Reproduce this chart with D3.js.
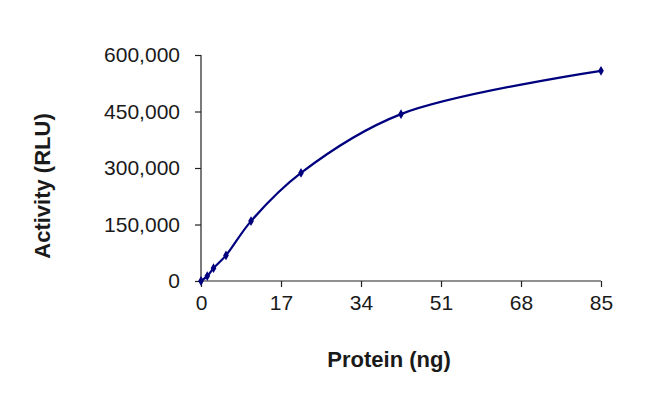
<!DOCTYPE html>
<html>
<head>
<meta charset="utf-8">
<script src="https://cdn.jsdelivr.net/npm/d3@7"></script>
<style>
  html, body { margin: 0; padding: 0; background: #fff; }
  svg { display: block; font-family: "Liberation Sans", Arial, sans-serif; }
</style>
</head>
<body>
<svg id="chart" width="650" height="418"></svg>
<script>
// Data
const protein = [0, 1.33, 2.66, 5.31, 10.63, 21.25, 42.5, 85];
const activity = [0, 13000, 34000, 68000, 159000, 287000, 443000, 558000];
const xTicks = [0, 17, 34, 51, 68, 85];
const yTicks = [0, 150000, 300000, 450000, 600000];
const xTitle = "Protein (ng)";
const yTitle = "Activity (RLU)";

const svg = d3.select("#chart");
const mLeft = 201, mRight = 601, mTop = 55, mBottom = 281;

const x = d3.scaleLinear().domain([0, 85]).range([mLeft, mRight]);
const y = d3.scaleLinear().domain([0, 600000]).range([mBottom, mTop]);

const fmt = d3.format(",");

// Y axis
const yAxis = svg.append("g")
  .attr("transform", `translate(${mLeft},0)`)
  .call(d3.axisLeft(y).tickValues(yTicks).tickFormat(fmt).tickSize(6).tickPadding(15));
// X axis
const xAxis = svg.append("g")
  .attr("transform", `translate(0,${mBottom})`)
  .call(d3.axisBottom(x).tickValues(xTicks).tickSize(6).tickPadding(8));

[yAxis, xAxis].forEach(g => {
  g.select(".domain").attr("stroke", "#222").attr("stroke-width", 1.2);
  g.selectAll(".tick line").attr("stroke", "#222").attr("stroke-width", 1.2);
  g.selectAll("text").attr("font-size", 21).attr("fill", "#1a1a1a")
    .attr("font-family", "Liberation Sans, Arial, sans-serif");
});
yAxis.select(".domain").attr("d", `M0,${mTop}V${mBottom}`);
xAxis.select(".domain").attr("d", `M${mLeft},0H${mRight}`);

// Line
const pts = protein.map((p, i) => [p, activity[i]]);
const line = d3.line()
  .x(d => x(d[0]))
  .y(d => y(d[1]))
  .curve(d3.curveCatmullRom.alpha(0.5));
svg.append("path")
  .datum(pts)
  .attr("fill", "none")
  .attr("stroke", "#00007f")
  .attr("stroke-width", 2.2)
  .attr("d", line);

// Diamond markers
svg.append("g").selectAll("path")
  .data(pts)
  .join("path")
  .attr("transform", d => `translate(${x(d[0])},${y(d[1])})`)
  .attr("d", d3.symbol(d3.symbolDiamond, 28)())
  .attr("fill", "#00007f");

// Titles
svg.append("text")
  .attr("x", 389).attr("y", 367)
  .attr("text-anchor", "middle")
  .attr("font-size", 22).attr("font-weight", "bold").attr("fill", "#1a1a1a")
  .text(xTitle);
svg.append("text")
  .attr("transform", "translate(50,186) rotate(-90)")
  .attr("text-anchor", "middle")
  .attr("font-size", 22).attr("font-weight", "bold").attr("fill", "#1a1a1a")
  .text(yTitle);
</script>
</body>
</html>
